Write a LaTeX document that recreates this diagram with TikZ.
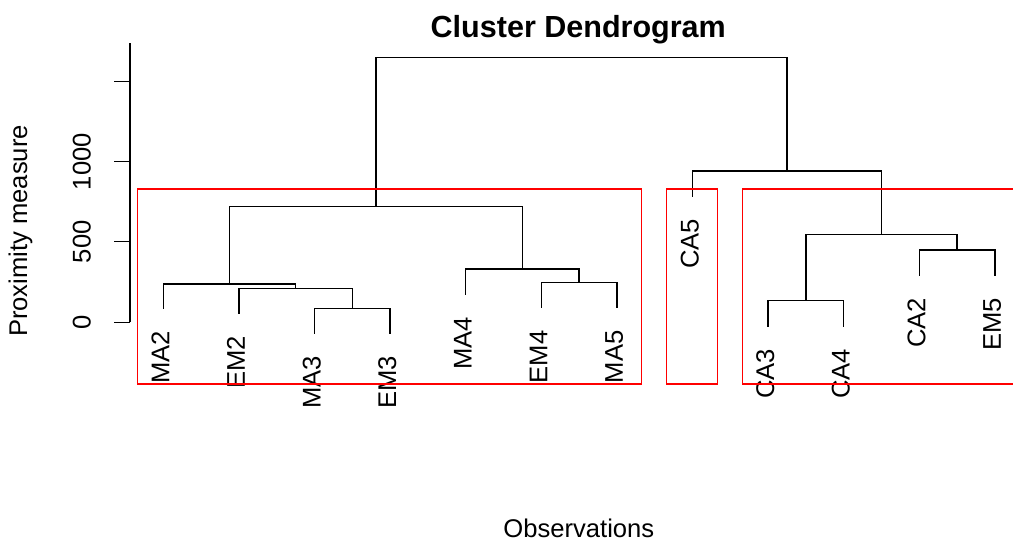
\documentclass[tikz,border=0pt]{standalone}
\usepackage{fontspec}
\setmainfont{Liberation Sans}
\begin{document}
\begin{tikzpicture}[x=0.75pt,y=-0.75pt,
  tree/.style={line width=1.1pt,black,line cap=rect},
  grp/.style={line width=1.1pt,red},
  leaflab/.style={rotate=90,anchor=base east,inner sep=0pt,font=\fontsize{19.2}{22}\selectfont},
  ticklab/.style={rotate=90,anchor=base,inner sep=0pt,font=\fontsize{19.2}{22}\selectfont},
  axlab/.style={anchor=base,inner sep=0pt,font=\fontsize{19.2}{22}\selectfont},
  ttl/.style={anchor=base,inner sep=0pt,font=\fontsize{22.9}{26}\selectfont\bfseries}]
\useasboundingbox (0,0) rectangle (1013,544);
\begin{scope}
\clip (0,0) rectangle (1013,544);
% leaves (bottom ends)
\coordinate (MA2) at (163.3,308.3);
\coordinate (EM2) at (238.9,313.3);
\coordinate (MA3) at (314.5,333.3);
\coordinate (EM3) at (390.1,333.3);
\coordinate (MA4) at (465.7,294.3);
\coordinate (EM4) at (541.3,307.7);
\coordinate (MA5) at (616.9,307.7);
\coordinate (CA5) at (692.5,196.3);
\coordinate (CA3) at (768.1,326.0);
\coordinate (CA4) at (843.7,326.0);
\coordinate (CA2) at (919.3,275.0);
\coordinate (EM5) at (994.9,275.0);
% merges
\coordinate (m1) at (352.3,308.3);
\coordinate (m2) at (295.6,288.3);
\coordinate (m3) at (229.5,284.0);
\coordinate (m4) at (579.1,282.7);
\coordinate (m5) at (522.4,269.0);
\coordinate (m6) at (376.0,206.7);
\coordinate (m7) at (805.9,300.7);
\coordinate (m8) at (957.1,250.0);
\coordinate (m9) at (881.5,234.7);
\coordinate (m10) at (787.0,171.0);
\coordinate (m11) at (581.5,57.3);
% tree
\draw[tree] (MA3) |- (m1) -| (EM3);
\draw[tree] (EM2) |- (m2) -| (m1);
\draw[tree] (MA2) |- (m3) -| (m2);
\draw[tree] (EM4) |- (m4) -| (MA5);
\draw[tree] (MA4) |- (m5) -| (m4);
\draw[tree] (m3) |- (m6) -| (m5);
\draw[tree] (CA3) |- (m7) -| (CA4);
\draw[tree] (CA2) |- (m8) -| (EM5);
\draw[tree] (m7) |- (m9) -| (m8);
\draw[tree] (CA5) |- (m10) -| (m9);
\draw[tree] (m6) |- (m11) -| (m10);
% leaf labels
\foreach \n in {MA2,EM2,MA3,EM3,MA4,EM4,MA5,CA5,CA3,CA4,CA2,EM5}{
  \node[leaflab] (lab\n) at ([shift={(6,22.5)}]\n) {\n};
}
% group rectangles
\draw[grp] (137.7,189) rectangle (641.7,384);
\draw[grp] (666.7,189) rectangle (717.3,384);
\draw[grp] (742.3,189) rectangle (1030,384);
\end{scope}
% axis
\coordinate (axtop) at (130,43);
\coordinate (axbot) at (130,322.3);
\draw[tree,line cap=butt] (axtop) -- (axbot);
\foreach \yy/\lab [count=\i] in {322.3/0,241.7/500,161.7/1000,81.7/}{
  \draw[tree,line cap=butt] (130,\yy) -- (114,\yy);
  \node[ticklab] (tk\i) at (90.5,\yy) {\lab};
}
% titles
\node[ttl] (title) at (578.3,37) {Cluster Dendrogram};
\node[axlab] (xlab) at (578.8,537) {Observations};
\node[axlab,rotate=90] (ylab) at (27,231) {Proximity measure};
\end{tikzpicture}
\end{document}
